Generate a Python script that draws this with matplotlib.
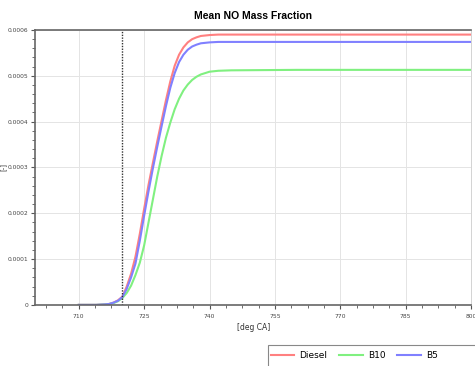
import numpy as np
import matplotlib
matplotlib.use("Agg")
import matplotlib.pyplot as plt
from matplotlib.ticker import FixedLocator, MultipleLocator, FuncFormatter
from matplotlib.lines import Line2D
from matplotlib.patches import Rectangle

# crank angle [deg CA] and mean NO mass fraction [-]
ca = [710, 714, 716, 717, 718, 719, 720, 721, 722, 723, 724, 725, 726, 727,
      728, 729, 730, 731, 732, 733, 734, 735, 736, 737, 738, 740, 742, 745,
      760, 800]
diesel = [0, 0, 1e-6, 2e-6, 5e-6, 1.0e-5, 1.8e-5, 4.0e-5, 6.8e-5, 1.05e-4,
          1.55e-4, 2.10e-4, 2.62e-4, 3.10e-4, 3.57e-4, 4.02e-4, 4.47e-4,
          4.88e-4, 5.22e-4, 5.46e-4, 5.62e-4, 5.73e-4, 5.80e-4, 5.84e-4,
          5.87e-4, 5.89e-4, 5.90e-4, 5.90e-4, 5.90e-4, 5.90e-4]
b10 = [0, 0, 1e-6, 2e-6, 4e-6, 8e-6, 1.5e-5, 2.6e-5, 4.2e-5, 6.5e-5,
       9.2e-5, 1.30e-4, 1.80e-4, 2.30e-4, 2.80e-4, 3.25e-4, 3.65e-4,
       3.98e-4, 4.27e-4, 4.50e-4, 4.68e-4, 4.81e-4, 4.91e-4, 4.98e-4,
       5.03e-4, 5.09e-4, 5.11e-4, 5.12e-4, 5.13e-4, 5.13e-4]
b5 = [0, 0, 1e-6, 2e-6, 5e-6, 9e-6, 1.7e-5, 3.5e-5, 6.0e-5, 9.0e-5,
      1.40e-4, 1.95e-4, 2.48e-4, 2.98e-4, 3.45e-4, 3.90e-4, 4.34e-4,
      4.74e-4, 5.06e-4, 5.30e-4, 5.46e-4, 5.57e-4, 5.64e-4, 5.68e-4,
      5.71e-4, 5.73e-4, 5.74e-4, 5.74e-4, 5.74e-4, 5.74e-4]
marker_ca = 720

xticks = [710, 725, 740, 755, 770, 785, 800]
yticks = [0, 0.0001, 0.0002, 0.0003, 0.0004, 0.0005, 0.0006]

fig = plt.figure(figsize=(4.75, 3.66), dpi=100)
ax = fig.add_axes([0.074, 0.167, 0.918, 0.751])

ax.plot(ca, diesel, color="#ff8080", lw=1.5, label="Diesel")
ax.plot(ca, b10, color="#80f080", lw=1.5, label="B10")
ax.plot(ca, b5, color="#8080ff", lw=1.5, label="B5")
ax.axvline(marker_ca, color="#333333", lw=1.0, ls=(0, (1, 1)))

ax.set_xlim(700, 800)
ax.set_ylim(0, 0.0006)
ax.xaxis.set_major_locator(FixedLocator(xticks))
ax.xaxis.set_minor_locator(FixedLocator(np.arange(702.5, 800, 3.75)))
ax.yaxis.set_major_locator(FixedLocator(yticks))
ax.yaxis.set_minor_locator(MultipleLocator(0.00002))
ax.yaxis.set_major_formatter(FuncFormatter(lambda v, p: "0" if v == 0 else "%.4f" % v))
ax.tick_params(which="both", direction="out", colors="#555555", labelsize=4.3,
               labelcolor="#444444")
ax.tick_params(axis="y", which="major", pad=2)
ax.tick_params(which="major", length=3, width=0.8)
ax.tick_params(which="minor", length=2, width=0.6)
ax.grid(True, which="major", color="#e4e4e4", lw=0.7)
ax.set_axisbelow(True)
for s in ["left", "bottom", "top"]:
    ax.spines[s].set_color("#666666")
    ax.spines[s].set_linewidth(1.2)
ax.spines["right"].set_color("#cccccc")
ax.spines["right"].set_linewidth(0.6)

ax.set_title("Mean NO Mass Fraction", fontsize=7.5, fontweight="bold",
             family=["Liberation Sans Narrow", "Liberation Sans", "DejaVu Sans"], pad=8)
ax.set_xlabel("[deg CA]", fontsize=5.5, color="#333333", labelpad=3)
ax.set_ylabel("[-]", fontsize=5, color="#333333")
ax.yaxis.set_label_coords(-0.065, 0.5)

# legend box runs off the bottom-right corner, like the original
fig.patches.append(Rectangle((0.564, -0.02), 0.45, 0.077, transform=fig.transFigure,
                             fill=False, edgecolor="#888888", lw=0.8))
handles = [Line2D([], [], color=l.get_color(), lw=1.5) for l in ax.get_lines()[:3]]
leg = fig.legend(handles, ["Diesel", "B10", "B5"], loc="center left",
                 bbox_to_anchor=(0.562, 0.029), ncol=3, fontsize=6.5,
                 frameon=False, handlelength=2.6, handletextpad=0.6,
                 columnspacing=1.3, borderaxespad=0)

fig.savefig("out.png", dpi=100)
